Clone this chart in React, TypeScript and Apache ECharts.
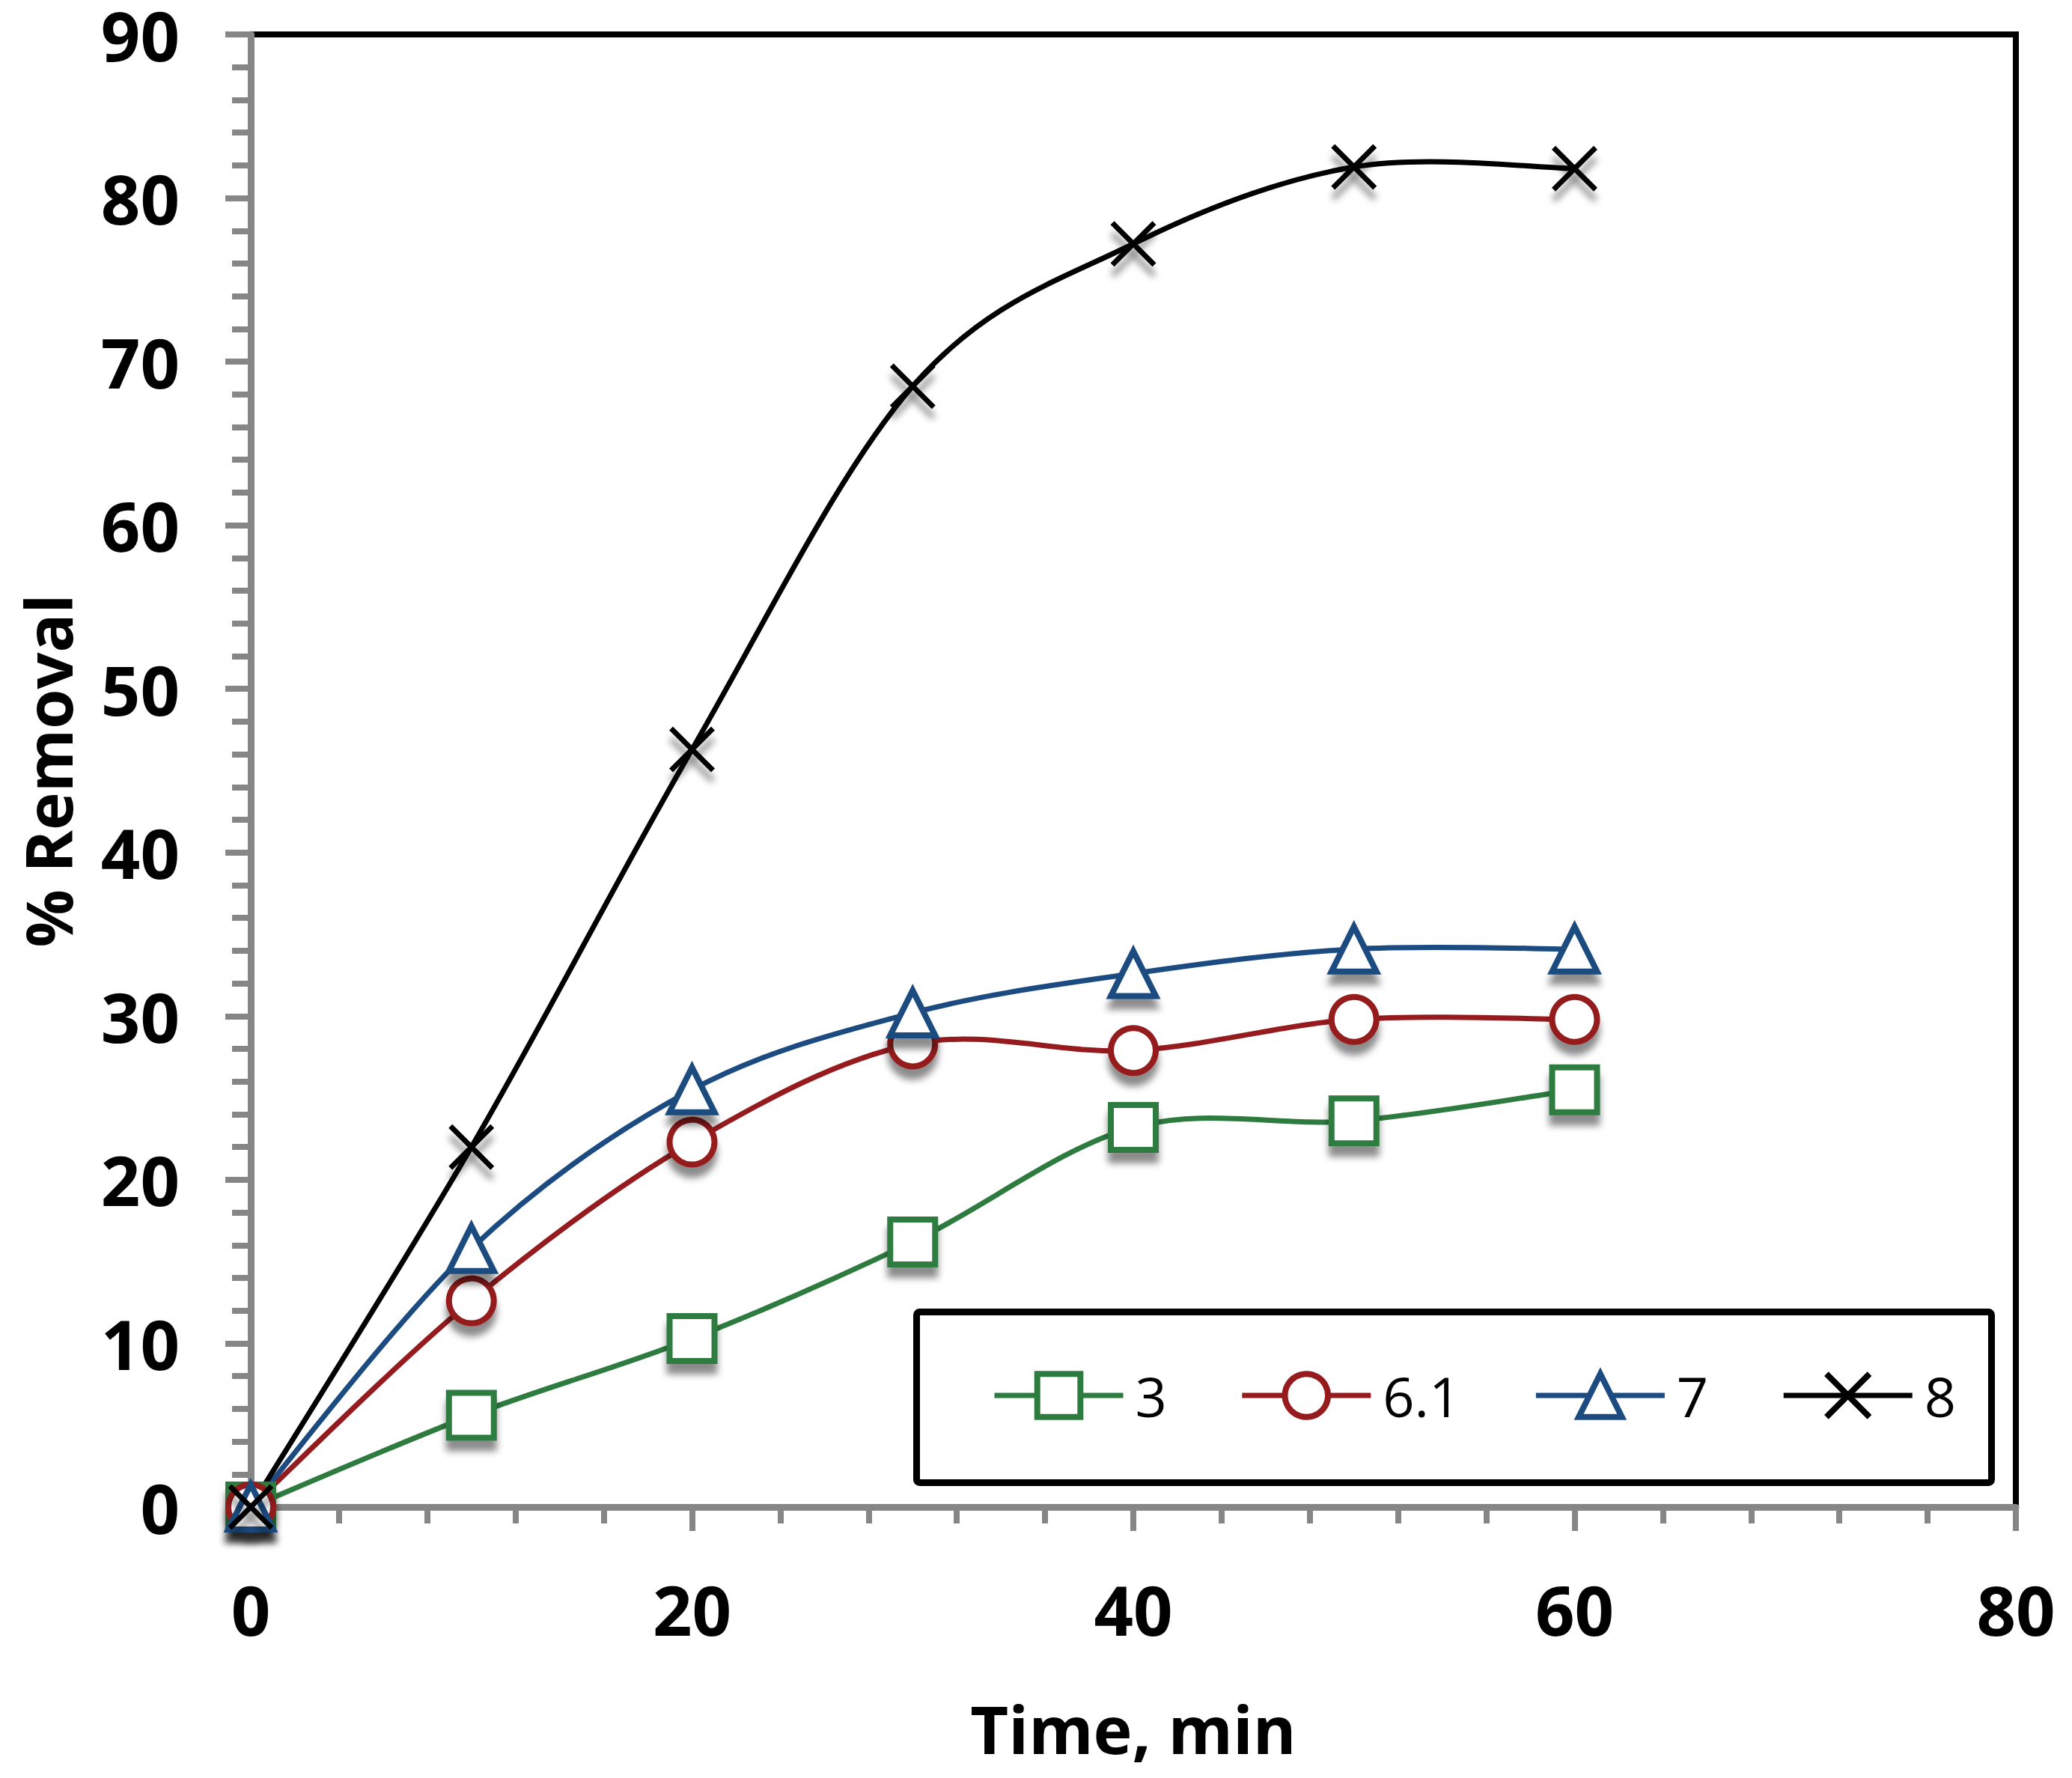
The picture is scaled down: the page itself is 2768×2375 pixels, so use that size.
import React, { useEffect, useRef } from "react";
import * as echarts from "echarts";

// time, min
const times = [0, 10, 20, 30, 40, 50, 60];

// % removal for each curve
const removal3 = [0, 5.6, 10.3, 16.2, 23.2, 23.6, 25.5];
const removal61 = [0, 12.6, 22.3, 28.3, 27.9, 29.8, 29.8];
const removal7 = [0, 15.8, 25.5, 30.2, 32.6, 34.1, 34.1];
const removal8 = [0, 22.0, 46.3, 68.5, 77.2, 81.9, 81.8];

const seriesNames = ["3", "6.1", "7", "8"];
const seriesColors = ["#2e7b40", "#951b1e", "#1b4b80", "#000000"];
const seriesSymbols = ["rect", "circle", "triangle", "path://M0,0L10,10M10,0L0,10"];

const xRange = { min: 0, max: 80, interval: 20 };
const yRange = { min: 0, max: 90, interval: 10 };

const FONT = '"Open Sans", sans-serif';
const AXIS_GRAY = "#868686";
const LINE_W = 7;

const App = () => {
  const chartRef = useRef<HTMLDivElement>(null);

  useEffect(() => {
    if (!chartRef.current) return;
    const chart = echarts.init(chartRef.current, null, { renderer: "svg" });

    const allValues = [removal3, removal61, removal7, removal8];
    const n = times.length;

    // excel-like smoothed curves (catmull-rom style bezier per segment)
    const curves = seriesNames.map((name, i) => {
      const vals = allValues[i];
      return {
        name: name + " curve",
        type: "custom",
        silent: true,
        z: 1,
        data: times.map((t, k) => [t, vals[k]]),
        encode: { x: 0, y: 1 },
        renderItem: (params: any, api: any) => {
          const k = params.dataIndex;
          if (k >= n - 1) return { type: "group", children: [] };
          const pt = (j: number) => {
            const jj = Math.max(0, Math.min(n - 1, j));
            return api.coord([times[jj], vals[jj]]);
          };
          const p0 = pt(k - 1);
          const p1 = pt(k);
          const p2 = pt(k + 1);
          const p3 = pt(k + 2);
          return {
            type: "bezierCurve",
            shape: {
              x1: p1[0],
              y1: p1[1],
              x2: p2[0],
              y2: p2[1],
              cpx1: p1[0] + (p2[0] - p0[0]) / 6,
              cpy1: p1[1] + (p2[1] - p0[1]) / 6,
              cpx2: p2[0] - (p3[0] - p1[0]) / 6,
              cpy2: p2[1] - (p3[1] - p1[1]) / 6,
            },
            style: { stroke: seriesColors[i], lineWidth: LINE_W, fill: null, lineCap: "round" },
          };
        },
      };
    });

    const markers = seriesNames.map((name, i) => {
      const isCross = i === 3;
      return {
        name,
        type: "line",
        z: 3,
        data: times.map((t, k) => [t, allValues[i][k]]),
        symbol: seriesSymbols[i],
        symbolSize: isCross ? 56 : 60,
        clip: false,
        lineStyle: { color: seriesColors[i], width: LINE_W, opacity: 0 },
        itemStyle: {
          color: isCross ? "rgba(0,0,0,0)" : "#ffffff",
          borderColor: seriesColors[i],
          borderWidth: isCross ? 7 : 8,
          shadowBlur: 10,
          shadowOffsetY: 14,
          shadowColor: "rgba(0,0,0,0.45)",
        },
      };
    });

    chart.setOption({
      animation: false,
      backgroundColor: "#ffffff",
      grid: {
        left: 335,
        right: 75,
        top: 40,
        bottom: 362,
        show: true,
        borderColor: "#000000",
        borderWidth: 8,
        backgroundColor: "transparent",
      },
      legend: {
        data: seriesNames,
        left: 1325,
        top: 1827,
        orient: "horizontal",
        itemWidth: 172,
        itemHeight: 72,
        itemGap: 97,
        padding: 0,
        textStyle: {
          fontFamily: FONT,
          fontSize: 74,
          color: "#000000",
          padding: [0, 0, 0, 11],
        },
        lineStyle: { width: LINE_W, opacity: 1 },
        itemStyle: {
          borderWidth: 8,
          shadowBlur: 0,
          shadowOffsetY: 0,
          shadowColor: "transparent",
        },
      },
      xAxis: {
        type: "value",
        min: xRange.min,
        max: xRange.max,
        interval: xRange.interval,
        name: "Time, min",
        nameLocation: "middle",
        nameGap: 252,
        nameTextStyle: {
          fontFamily: FONT,
          fontSize: 88,
          fontWeight: "bold",
          color: "#000000",
        },
        axisLine: { show: true, lineStyle: { color: AXIS_GRAY, width: 9 } },
        axisTick: { show: true, inside: false, length: 32, lineStyle: { color: AXIS_GRAY, width: 8 } },
        minorTick: { show: true, splitNumber: 5, length: 22, lineStyle: { color: AXIS_GRAY, width: 8 } },
        splitLine: { show: false },
        axisLabel: {
          margin: 90,
          fontFamily: FONT,
          fontSize: 92,
          fontWeight: "bold",
          color: "#000000",
        },
      },
      yAxis: {
        type: "value",
        min: yRange.min,
        max: yRange.max,
        interval: yRange.interval,
        name: "% Removal",
        nameLocation: "middle",
        nameGap: 232,
        nameTextStyle: {
          fontFamily: FONT,
          fontSize: 86,
          fontWeight: "bold",
          color: "#000000",
          lineHeight: 80,
        },
        axisLine: { show: true, lineStyle: { color: AXIS_GRAY, width: 9 } },
        axisTick: { show: true, inside: false, length: 34, lineStyle: { color: AXIS_GRAY, width: 8 } },
        minorTick: { show: true, splitNumber: 5, length: 25, lineStyle: { color: AXIS_GRAY, width: 8 } },
        splitLine: { show: false },
        axisLabel: {
          margin: 95,
          fontFamily: FONT,
          fontSize: 92,
          fontWeight: "bold",
          color: "#000000",
          lineHeight: 76,
        },
      },
      graphic: [
        {
          type: "rect",
          z: 0,
          shape: { x: 1224.5, y: 1752.5, width: 1436, height: 228, r: 4 },
          style: { fill: "#ffffff", stroke: "#000000", lineWidth: 9 },
        },
      ],
      series: [...curves, ...markers],
    });

    return () => {
      chart.dispose();
    };
  }, []);

  return (
    <div
      ref={chartRef}
      style={{ position: "fixed", left: 0, top: 0, width: 2768, height: 2375, background: "#ffffff" }}
    />
  );
};

export default App;
